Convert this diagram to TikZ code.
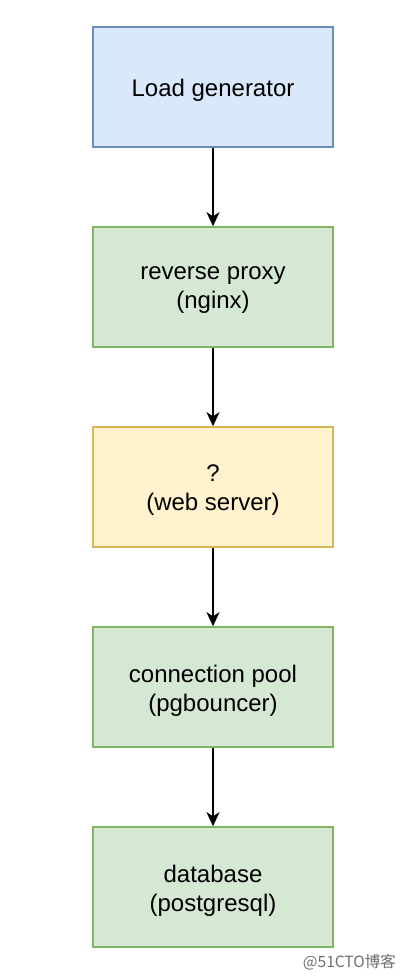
\documentclass[tikz,border=0pt]{standalone}
\usepackage{fontspec}
\setmainfont{Liberation Sans}
\newfontfamily\cjk{Noto Sans CJK SC}
\usetikzlibrary{arrows.meta}
\definecolor{bluefill}{HTML}{DAE8FC}
\definecolor{bluedraw}{HTML}{6C8EBF}
\definecolor{greenfill}{HTML}{D5E8D4}
\definecolor{greendraw}{HTML}{82B366}
\definecolor{yellowfill}{HTML}{FFF2CC}
\definecolor{yellowdraw}{HTML}{D6B656}
\definecolor{wmgray}{HTML}{6E6E6E}
\begin{document}
\begin{tikzpicture}[x=1pt,y=-1pt,
  box/.style={draw, line width=1.6pt, minimum width=240pt, minimum height=120pt,
    inner sep=0pt},
  boxtext/.style={align=center, inner sep=0pt, yshift=-3.5pt,
    font=\fontsize{24}{29}\selectfont},
  bluebox/.style={box, fill=bluefill, draw=bluedraw},
  greenbox/.style={box, fill=greenfill, draw=greendraw},
  yellowbox/.style={box, fill=yellowfill, draw=yellowdraw},
  flow/.style={draw=black, line width=2pt, -{Stealth[length=14pt,width=13pt,inset=4pt]}}]
\useasboundingbox[fill=white] (0,0) rectangle (404,978);
\node[bluebox, label={[boxtext]center:Load generator}] (lg) at (213,87) {};
\node[greenbox, label={[boxtext]center:reverse proxy\\(nginx)}] (rp) at (213,287) {};
\node[yellowbox, label={[boxtext]center:?\\(web server)}] (ws) at (213,487) {};
\node[greenbox, label={[boxtext]center:connection pool\\(pgbouncer)}] (cp) at (213,687) {};
\node[greenbox, label={[boxtext]center:database\\(postgresql)}] (db) at (213,887) {};
\draw[flow] (lg) -- (rp);
\draw[flow] (rp) -- (ws);
\draw[flow] (ws) -- (cp);
\draw[flow] (cp) -- (db);
\node[text=wmgray, font=\cjk\fontsize{15.5}{18}\selectfont, anchor=east, inner sep=0pt] (wm) at (396,962) {@51CTO博客};
\end{tikzpicture}
\end{document}
